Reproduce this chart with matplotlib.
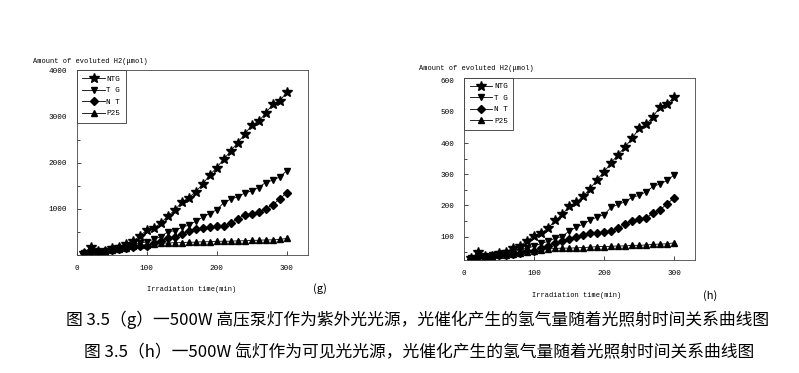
import numpy as np
import matplotlib
matplotlib.use("Agg")
import matplotlib.pyplot as plt
from matplotlib.ticker import MultipleLocator

plt.rcParams['font.family'] = ['Liberation Mono', 'DejaVu Sans']

# irradiation time (min)
t = list(range(10, 301, 10))

# (g) 500W high pressure mercury lamp
g_ntg = [50, 170, 90, 100, 150, 180, 250, 300, 410, 540, 580, 690, 840, 970, 1140,
         1240, 1370, 1535, 1730, 1890, 2070, 2250, 2430, 2610, 2810, 2890, 3070, 3260, 3330, 3520]
g_tg = [40, 90, 80, 100, 130, 150, 180, 220, 260, 290, 340, 400, 500, 530, 600,
        650, 730, 820, 900, 980, 1130, 1210, 1260, 1340, 1390, 1460, 1570, 1620, 1690, 1820]
g_nt = [40, 60, 70, 80, 120, 130, 150, 170, 200, 200, 270, 300, 370, 400, 450,
        520, 565, 580, 600, 620, 640, 690, 785, 870, 890, 935, 1000, 1085, 1215, 1345]
g_p25 = [30, 60, 80, 90, 110, 140, 160, 190, 210, 220, 240, 260, 260, 270, 270,
         280, 280, 290, 290, 300, 300, 300, 310, 310, 320, 320, 330, 330, 340, 360]

# (h) 500W xenon lamp
h_ntg = [31, 50, 39, 39, 47, 52, 63, 71, 87, 103, 111, 127, 152, 171, 197,
         211, 229, 254, 283, 308, 337, 363, 388, 415, 447, 460, 485, 517, 525, 548]
h_tg = [30, 40, 38, 40, 45, 48, 55, 60, 62, 70, 78, 85, 95, 100, 118,
        130, 140, 153, 163, 170, 194, 203, 212, 226, 232, 244, 261, 269, 280, 298]
h_nt = [28, 35, 35, 38, 40, 42, 45, 48, 55, 55, 65, 70, 78, 85, 93,
        100, 105, 110, 112, 115, 118, 128, 140, 150, 157, 160, 175, 185, 206, 223]
h_p25 = [28, 32, 35, 38, 40, 42, 45, 48, 52, 55, 58, 60, 62, 63, 63,
         64, 65, 66, 68, 68, 69, 70, 70, 72, 72, 73, 75, 76, 77, 80]

names = ['NTG', 'T G', 'N T', 'P25']
markers = ['*', 'v', 'D', '^']
msizes = [7, 5, 4.5, 5]

fig = plt.figure(figsize=(7.99, 3.73), dpi=100)
fig.patch.set_facecolor('white')


def draw(ax, series, ylim, ymajor, yminor):
    for ys, nm, mk, ms in zip(series, names, markers, msizes):
        ax.plot(t, ys, marker=mk, color='black', markersize=ms, linewidth=0.6, label=nm)
    ax.set_xlim(0, 330)
    ax.set_ylim(*ylim)
    ax.xaxis.set_major_locator(MultipleLocator(100))
    ax.yaxis.set_major_locator(MultipleLocator(ymajor))
    ax.yaxis.set_minor_locator(MultipleLocator(yminor))
    ax.tick_params(direction='in', labelsize=5.5, length=3, width=0.5, pad=7)
    ax.tick_params(which='minor', direction='in', length=2, width=0.5)
    for s in ax.spines.values():
        s.set_linewidth(0.6)
        s.set_color('#444444')
    leg = ax.legend(loc='upper left', borderaxespad=0, fancybox=False, fontsize=5.5,
                    handlelength=3.0, handletextpad=0.2, labelspacing=0.55,
                    borderpad=0.7, framealpha=1)
    leg.get_frame().set_edgecolor('#333333')
    leg.get_frame().set_linewidth(0.6)


ax1 = fig.add_axes([0.096, 0.316, 0.289, 0.496])
draw(ax1, [g_ntg, g_tg, g_nt, g_p25], (0, 4000), 1000, 500)
ax1.set_yticks([1000, 2000, 3000, 4000])

ax2 = fig.add_axes([0.581, 0.303, 0.289, 0.489])
draw(ax2, [h_ntg, h_tg, h_nt, h_p25], (25, 610), 100, 50)
ax2.set_yticks([100, 200, 300, 400, 500, 600])

fig.text(0.041, 0.832, 'Amount of evoluted H2(μmol)', fontsize=5)
fig.text(0.525, 0.812, 'Amount of evoluted H2(μmol)', fontsize=5)
fig.text(0.240, 0.220, 'Irradiation time(min)', fontsize=5, ha='center')
fig.text(0.722, 0.203, 'Irradiation time(min)', fontsize=5, ha='center')
fig.text(0.401, 0.218, '(g)', fontsize=8, ha='center', family=['Noto Sans CJK SC', 'DejaVu Sans'])
fig.text(0.889, 0.200, '(h)', fontsize=8, ha='center', family=['Noto Sans CJK SC', 'DejaVu Sans'])

cap = ['Noto Sans CJK SC', 'DejaVu Sans']
fig.text(0.523, 0.142, '图 3.5（g）一500W 高压泵灯作为紫外光光源，光催化产生的氢气量随着光照射时间关系曲线图',
         fontsize=12.1, ha='center', va='center', family=cap)
fig.text(0.524, 0.055, '图 3.5（h）一500W 氙灯作为可见光光源，光催化产生的氢气量随着光照射时间关系曲线图',
         fontsize=12.1, ha='center', va='center', family=cap)

fig.savefig('out.png', dpi=100)
